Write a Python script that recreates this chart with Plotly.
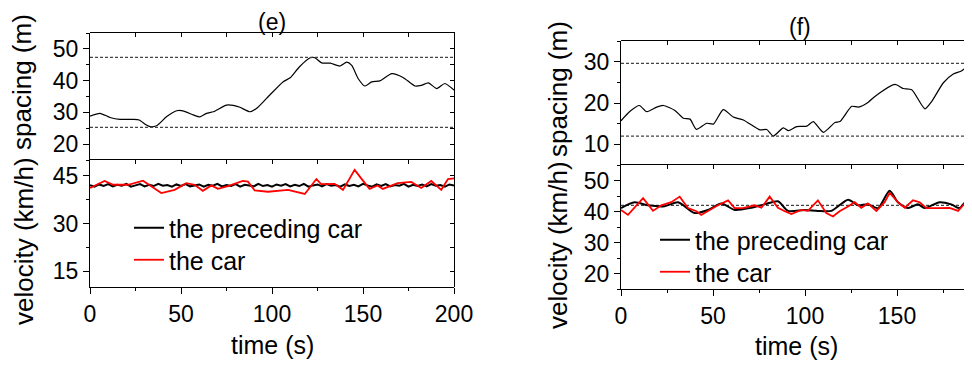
import plotly.graph_objects as go

# The page has an 8px body margin on every side; size the figure so the page fits exactly.
OFF = 8
W, H = 972 - 2 * OFF, 369 - 2 * OFF
FONT = "Arial, Liberation Sans, sans-serif"

# ---------------- data: panel (e) ----------------
e_sp_t = [0, 5.5, 11, 16.5, 23.7, 27, 31, 33, 36.6, 42, 47.6, 51, 56.8, 60.4, 64, 67.8, 75, 78.7,
          82.4, 87.9, 91.6, 97, 106, 110, 115, 121, 123.6, 127.3, 132, 137.4, 141, 143.8, 147.4,
          151, 154.8, 159.3, 165.8, 172, 178.6, 182, 185.9, 190.5, 195, 200]
e_sp_v = [28.8, 29.7, 28.4, 27.8, 27.8, 27.6, 26.0, 25.5, 25.8, 28.6, 30.5, 30.5, 29.2, 28.6,
          29.7, 30.2, 32.3, 32.2, 31.6, 30.2, 31.3, 34.4, 39.6, 40.9, 44.3, 47.2, 47.2, 45.6,
          45.5, 44.6, 45.8, 44.8, 40.6, 38.3, 39.6, 39.9, 42.2, 41.0, 38.3, 38.5, 39.3, 37.5,
          39.1, 37.0]
e_sp_bounds = [47.3, 25.3]

e_lead_v = [42.1, 41.6, 42.3, 41.8, 42.4, 41.7, 42.2, 41.9, 42.5, 41.6, 42.0, 42.4, 41.7, 42.2,
            41.8, 42.5, 41.9, 42.1, 41.6, 42.3, 41.8, 42.4, 41.7, 42.0, 42.3, 41.6, 42.2, 41.9,
            42.5, 41.7, 42.1, 41.8, 42.4, 41.6, 42.2, 42.0, 41.7, 42.5, 41.8, 42.1, 41.6, 42.3,
            41.9, 42.4, 41.7, 42.2, 41.8, 42.5, 41.6, 42.0, 42.3, 41.7, 42.4, 41.9, 42.1, 41.6,
            42.3, 41.8, 42.2, 41.7, 42.5, 42.0, 41.6, 42.3, 41.8, 42.4, 41.7, 42.1, 41.9, 42.5,
            41.6, 42.2, 41.8, 42.3, 41.7, 42.4, 41.9, 42.1, 41.6, 42.3, 42.0]
e_lead_t = [2.5 * i for i in range(len(e_lead_v))]

e_car_t = [0, 8, 12.8, 21, 29.1, 32.7, 39.2, 46.5, 52.9, 57.5, 62, 66.7, 70.3, 75.8, 84, 86.8,
           90.5, 97.8, 108.8, 118, 124.4, 127, 134.4, 139, 145.4, 149, 153.6, 158, 160.9, 169,
           176.5, 182, 187.5, 193, 196.7, 200]
e_car_v = [41.2, 43.4, 42.2, 42.2, 43.5, 42.2, 39.6, 40.6, 42.7, 42.2, 40.3, 42.0, 40.9, 41.8,
           43.4, 43.2, 40.4, 40.0, 40.6, 39.3, 44.0, 42.4, 42.5, 40.6, 46.9, 44.2, 40.9, 42.0,
           40.9, 42.7, 43.1, 41.2, 43.4, 40.6, 44.0, 44.2]

# ---------------- data: panel (f) ----------------
f_sp_t = [0, 4.9, 10, 14, 19.4, 23, 29.3, 33.9, 37.5, 41, 46.6, 50.2, 55.6, 61, 66.5, 75.5,
          79.2, 82.8, 88.2, 91, 95.5, 101, 104.5, 110, 116.3, 119, 125.4, 129, 134.4, 138,
          148.9, 153.4, 158, 165.2, 168.9, 175.2, 180.6, 185.2, 190]
f_sp_v = [15.7, 18.0, 19.4, 17.9, 19.0, 19.4, 18.2, 16.3, 16.1, 13.6, 15.1, 14.9, 18.4, 16.6,
          15.9, 13.5, 13.6, 12.0, 14.0, 13.3, 14.3, 14.4, 15.5, 12.9, 15.3, 15.5, 19.2, 19.0,
          20.2, 21.6, 24.5, 23.5, 23.2, 18.6, 20.4, 24.9, 27.0, 27.8, 29.8]
f_sp_bounds = [29.6, 12.0]

f_lead_t = [0, 7.4, 14.7, 23.7, 31, 40, 47.3, 54.5, 61.8, 70.8, 78.1, 85.3, 90.8, 99.8, 107,
            114.3, 123.4, 128.8, 134.2, 139.7, 146, 150.5, 156, 161.4, 165, 173.2, 179.5, 184,
            187.7, 190]
f_lead_v = [41.1, 43.0, 42.0, 41.7, 43.0, 39.5, 40.5, 42.6, 40.5, 41.2, 42.3, 43.3, 40.2, 40.5,
            40.2, 40.2, 43.8, 42.0, 42.3, 41.1, 46.7, 43.0, 41.1, 42.3, 41.1, 43.0, 42.3, 41.1,
            43.3, 41.9]

f_car_t = [0, 3.8, 12, 17.4, 21.9, 27.3, 31.9, 36.4, 41, 43.6, 52.7, 58.2, 61.8, 66.3, 72.7,
           76.3, 80.8, 85.3, 89, 92.6, 98, 101.6, 107, 111.6, 115.2, 118.8, 123.4, 127, 130.6,
           134.2, 138.8, 143.3, 146, 150.5, 154.2, 158.7, 162.3, 166, 172.3, 178.6, 183.2,
           186.8, 190]
f_car_v = [40.5, 38.9, 44.3, 40.2, 42.0, 43.0, 44.8, 41.1, 40.1, 38.9, 42.0, 43.6, 41.1, 41.1,
           42.0, 41.2, 44.8, 41.2, 40.1, 39.2, 40.5, 40.2, 43.6, 39.5, 38.4, 40.1, 41.6, 43.0,
           41.2, 42.6, 40.2, 43.0, 46.0, 43.0, 41.2, 43.6, 43.0, 41.1, 41.1, 41.2, 40.2, 42.6,
           41.6]
f_vel_ref = 42.0

x_ticks = [0, 50, 100, 150, 200]
e_x_range = [0, 200]
# right panel: 0 s at page x 621, 1.84 px per second, plot runs to the page edge
F_X0, F_PPS = 621, 1.84
f_x_range = [0, (972 - OFF - F_X0) / F_PPS]
e_sp_range, e_vel_range = [15, 55], [10, 50]
f_sp_range, f_vel_range = [5, 35], [15, 55]

# ---------------- geometry helpers (reference-page pixels -> paper) ----------------
def fx(p):
    return (p - OFF) / W

def fy(p):
    return 1 - (p - OFF) / H

def dom_x(a, b):
    return [max(0, fx(a)), min(1, fx(b))]

def dom_y(top, bottom):
    return [fy(bottom), fy(top)]

fig = go.Figure()

BLACK = "black"
RED = "#ff0000"
DASH = dict(color="#444444", width=1.2, dash="3px,2px")

def add_bounds(xs, bounds, xa, ya):
    for b in bounds:
        fig.add_trace(go.Scatter(x=[xs[0], xs[1]], y=[b, b], mode="lines", line=DASH,
                                 xaxis=xa, yaxis=ya, showlegend=False, hoverinfo="skip"))

# panel (e) spacing: main x/y, frame x5/y5
fig.add_trace(go.Scatter(x=e_sp_t, y=e_sp_v, mode="lines",
                         line=dict(color=BLACK, width=1.2, shape="spline", smoothing=0.6),
                         xaxis="x", yaxis="y", showlegend=False, hoverinfo="skip"))
add_bounds(e_x_range, e_sp_bounds, "x5", "y5")
# panel (e) velocity: main x2/y2, frame x6/y6
fig.add_trace(go.Scatter(x=e_lead_t, y=e_lead_v, mode="lines", name="the preceding car",
                         line=dict(color=BLACK, width=2), xaxis="x2", yaxis="y2", legend="legend"))
fig.add_trace(go.Scatter(x=e_car_t, y=e_car_v, mode="lines", name="the car",
                         line=dict(color=RED, width=1.8), xaxis="x6", yaxis="y6", legend="legend2"))
# panel (f) spacing: main x3/y3, frame x7/y7
fig.add_trace(go.Scatter(x=f_sp_t, y=f_sp_v, mode="lines",
                         line=dict(color=BLACK, width=1.2, shape="spline", smoothing=0.6),
                         xaxis="x3", yaxis="y3", showlegend=False, hoverinfo="skip"))
add_bounds(f_x_range, f_sp_bounds, "x7", "y7")
# panel (f) velocity: main x4/y4, frame x8/y8
add_bounds(f_x_range, [f_vel_ref], "x4", "y4")
fig.add_trace(go.Scatter(x=f_lead_t, y=f_lead_v, mode="lines", name="the preceding car",
                         line=dict(color=BLACK, width=2, shape="spline", smoothing=0.7),
                         xaxis="x8", yaxis="y8", legend="legend3"))
fig.add_trace(go.Scatter(x=f_car_t, y=f_car_v, mode="lines", name="the car",
                         line=dict(color=RED, width=1.8), xaxis="x8", yaxis="y8", legend="legend4"))

TICKF = dict(family=FONT, size=23, color="black")
BASE = dict(showgrid=False, zeroline=False, linecolor="black", linewidth=1, tickcolor="black",
            automargin=False)

def xmain(dom, anchor, rng, labels):
    d = dict(BASE, domain=dom, anchor=anchor, range=rng, tickfont=TICKF)
    if labels:
        d.update(showline=True, ticks="outside", ticklen=6, tickvals=x_ticks, showticklabels=True,
                 minor=dict(ticks="outside", ticklen=3, dtick=25, tick0=0, tickcolor="black", showgrid=False))
    else:
        d.update(showline=False, ticks="", showticklabels=False)
    return d

def ymain(dom, anchor, rng, dtick, minor):
    return dict(BASE, domain=dom, anchor=anchor, range=rng, showline=True, ticks="outside",
                ticklen=6, dtick=dtick, tick0=0, tickfont=TICKF,
                minor=dict(ticks="outside", ticklen=3, dtick=minor, tick0=0, tickcolor="black", showgrid=False))

def xframe(dom, anchor, rng):
    return dict(BASE, domain=dom, anchor=anchor, side="top", range=rng, showline=True,
                ticks="inside", ticklen=4, dtick=25, tick0=0, showticklabels=False)

def yframe(dom, anchor, rng, dtick, show=True):
    if not show:
        return dict(domain=dom, anchor=anchor, range=rng, visible=False, automargin=False)
    return dict(BASE, domain=dom, anchor=anchor, side="right", range=rng, showline=True,
                ticks="inside", ticklen=4, dtick=dtick, tick0=0, showticklabels=False)

LX = dom_x(90, 454)
RX = dom_x(F_X0, 972 - OFF)
A_Y, B_Y = dom_y(33, 160), dom_y(160, 287)
C_Y, D_Y = dom_y(41, 165), dom_y(165, 289)

LEGF = dict(family=FONT, size=25, color="black")

def legend_at(text_left, center_y):
    return dict(x=fx(text_left - 44), y=fy(center_y), xanchor="left", yanchor="middle",
                bgcolor="rgba(0,0,0,0)", font=LEGF, borderwidth=0)

fig.update_layout(
    width=W, height=H, autosize=False,
    margin=dict(l=0, r=0, t=0, b=0, pad=0, autoexpand=False),
    paper_bgcolor="white", plot_bgcolor="rgba(0,0,0,0)", font=dict(family=FONT, color="black"),
    xaxis=xmain(LX, "y", e_x_range, False),
    yaxis=ymain(A_Y, "x", e_sp_range, 10, 5),
    xaxis2=xmain(LX, "y2", e_x_range, True),
    yaxis2=ymain(B_Y, "x2", e_vel_range, 15, 7.5),
    xaxis3=xmain(RX, "y3", f_x_range, False),
    yaxis3=ymain(C_Y, "x3", f_sp_range, 10, 5),
    xaxis4=xmain(RX, "y4", f_x_range, True),
    yaxis4=ymain(D_Y, "x4", f_vel_range, 10, 5),
    xaxis5=xframe(LX, "y5", e_x_range),
    yaxis5=yframe(A_Y, "x5", e_sp_range, 5),
    xaxis6=xframe(LX, "y6", e_x_range),
    yaxis6=yframe(B_Y, "x6", e_vel_range, 7.5),
    xaxis7=xframe(RX, "y7", f_x_range),
    yaxis7=yframe(C_Y, "x7", f_sp_range, 5, show=False),
    xaxis8=xframe(RX, "y8", f_x_range),
    yaxis8=yframe(D_Y, "x8", f_vel_range, 5, show=False),
    legend=legend_at(173, 228),
    legend2=legend_at(173, 260),
    legend3=legend_at(699, 240),
    legend4=legend_at(699, 272),
)

def ann(text, x, y, size, angle=0):
    fig.add_annotation(text=text, x=fx(x), y=fy(y), xref="paper", yref="paper",
                       showarrow=False, textangle=angle, xanchor="center", yanchor="middle",
                       font=dict(family=FONT, size=size, color="black"))

ann("(e)", 272, 22, 23)
ann("(f)", 800, 27, 23)
ann("spacing (m)", 22, 82, 26, -90)
ann("spacing (m)", 558, 89, 26, -90)
ann("velocity (km/h)", 24, 241, 26, -90)
ann("velocity (km/h)", 558, 245, 26, -90)
ann("time (s)", 272, 345, 25)
ann("time (s)", 796, 346, 25)

fig.write_html("out.html")
